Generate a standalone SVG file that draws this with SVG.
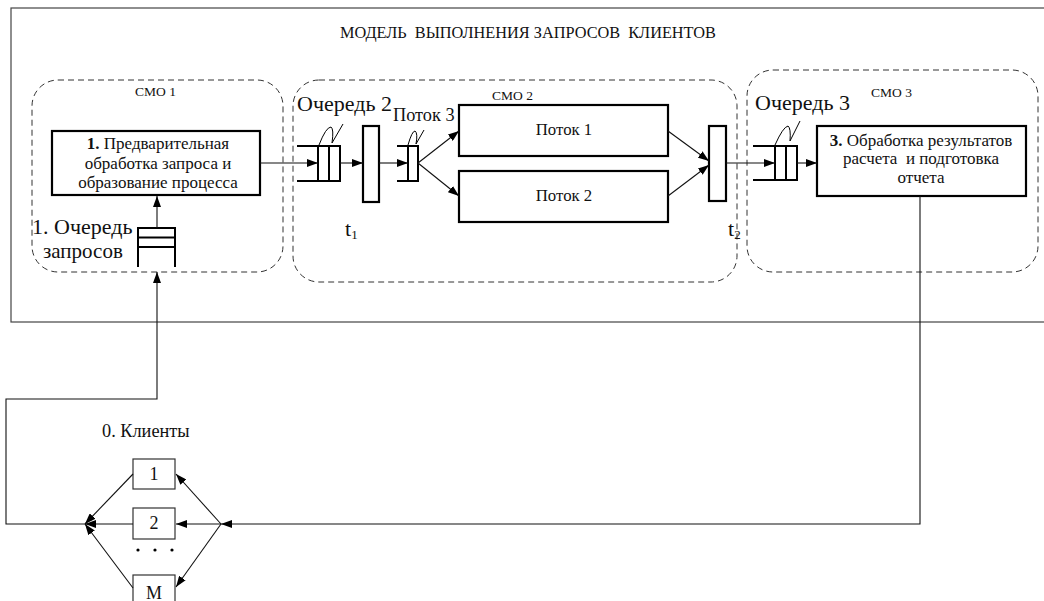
<svg xmlns="http://www.w3.org/2000/svg" width="1044" height="601" viewBox="0 0 1044 601">
<defs>
<marker id="ah" markerUnits="userSpaceOnUse" markerWidth="11" markerHeight="8" refX="11" refY="4" orient="auto">
<path d="M0,0 L11,4 L0,8 z" fill="#000"/>
</marker>
<style>
text{fill:#111;font-family:'Liberation Serif','Times New Roman',serif}
.frame{fill:none;stroke:#444;stroke-width:1.2}
.dash{fill:none;stroke:#333;stroke-width:1;stroke-dasharray:6,4}
.tb{fill:#fff;stroke:#000;stroke-width:2.2}
.thin{fill:#fff;stroke:#333;stroke-width:1.2}
.q{fill:none;stroke:#000;stroke-width:2}
.qb{fill:#fff;stroke:#000;stroke-width:2}
.wig{fill:none;stroke:#000;stroke-width:1}
.ca{fill:none;stroke:#111;stroke-width:1.1;marker-end:url(#ah)}
.big{font-size:22px}
.mid{font-size:17px}
.num{font-size:18px}
.sm{font-size:13.5px}
</style>
</defs>

<g id="frame">
<rect class="frame" x="11" y="8" width="1045" height="314"/>
<text x="340" y="38" font-size="16.3" xml:space="preserve">МОДЕЛЬ  ВЫПОЛНЕНИЯ ЗАПРОСОВ  КЛИЕНТОВ</text>
</g>

<g id="smo1">
<rect class="dash" x="32" y="80" width="251" height="192" rx="26"/>
<text class="sm" x="135" y="96">СМО 1</text>
</g>
<g id="smo2">
<rect class="dash" x="293" y="80" width="444" height="202" rx="26"/>
<text class="sm" x="492" y="100">СМО 2</text>
</g>
<g id="smo3">
<rect class="dash" x="747" y="70" width="291" height="202" rx="26"/>
<text class="sm" x="871" y="97">СМО 3</text>
</g>

<g id="box1">
<rect class="tb" x="52" y="131" width="208" height="64"/>
<text class="mid" text-anchor="middle" x="158" y="149"><tspan font-weight="bold">1.</tspan> Предварительная</text>
<text class="mid" text-anchor="middle" x="158" y="169">обработка запроса и</text>
<text class="mid" text-anchor="middle" x="158" y="188">образование процесса</text>
</g>

<g id="queue1">
<path class="q" d="M138,267 V228 H175 V267 M138,237.5 H175 M138,247 H175"/>
<text class="big" x="32" y="234">1. Очередь</text>
<text x="43" y="258" font-size="21">запросов</text>
</g>

<g id="queue2">
<path class="q" d="M297,146 H318 M297,181 H318"/>
<rect class="qb" x="318" y="146" width="22" height="35"/>
<line class="q" x1="329" y1="146" x2="329" y2="181"/>
<path class="wig" d="M319,145 Q326,127 331,127 Q334,129 332,143 L343,124"/>
<text class="big" x="297" y="111">Очередь 2</text>
</g>

<g id="t1">
<rect class="tb" x="363" y="126" width="16" height="76"/>
<text x="345" y="236" font-size="22">t<tspan font-size="13" dy="3">1</tspan></text>
</g>

<g id="queue-potok3">
<path class="q" d="M397,146 H408 M397,181 H408"/>
<rect class="qb" x="408" y="146" width="10" height="35"/>
<path class="wig" d="M408,145 Q412,131 415,131 Q418,133 416,144 L424,130"/>
<text x="393" y="121" font-size="18.3">Поток 3</text>
</g>

<g id="potok1">
<rect class="tb" x="459" y="105" width="209" height="51"/>
<text x="564" y="135" font-size="16.8" text-anchor="middle">Поток 1</text>
</g>
<g id="potok2">
<rect class="tb" x="459" y="171" width="209" height="51"/>
<text x="564" y="201" font-size="16.8" text-anchor="middle">Поток 2</text>
</g>

<g id="t2">
<rect class="tb" x="709" y="126" width="17" height="75"/>
<text x="728" y="236" font-size="22">t<tspan font-size="13" dy="3">2</tspan></text>
</g>

<g id="queue3">
<path class="q" d="M753,146 H775 M753,180 H775"/>
<rect class="qb" x="775" y="146" width="22" height="34"/>
<line class="q" x1="786" y1="146" x2="786" y2="180"/>
<path class="wig" d="M775,145 Q783,127 788,126 Q791,128 790,141 L800,121"/>
<text class="big" x="755" y="110">Очередь 3</text>
</g>

<g id="box3">
<rect class="tb" x="817" y="126" width="209" height="70"/>
<text class="mid" text-anchor="middle" x="921" y="146"><tspan font-weight="bold">3.</tspan> Обработка результатов</text>
<text class="mid" text-anchor="middle" x="921" y="164" xml:space="preserve">расчета  и подготовка</text>
<text class="mid" text-anchor="middle" x="921" y="183">отчета</text>
</g>

<g id="clients">
<text x="102" y="437" font-size="18.3">0. Клиенты</text>
<g id="client1">
<rect class="thin" x="133" y="459" width="42" height="30"/>
<text class="num" text-anchor="middle" x="154" y="480">1</text>
</g>
<g id="client2">
<rect class="thin" x="133" y="508" width="42" height="31"/>
<text class="num" text-anchor="middle" x="154" y="529">2</text>
</g>
<g id="dots">
<circle cx="138" cy="550" r="1.6" fill="#000"/>
<circle cx="155" cy="550" r="1.6" fill="#000"/>
<circle cx="172" cy="550" r="1.6" fill="#000"/>
</g>
<g id="clientM">
<rect class="thin" x="133" y="575" width="42" height="30"/>
<text class="num" text-anchor="middle" x="154" y="599">M</text>
</g>
</g>

<g id="connectors">
<path class="ca" d="M157,228 V196"/>
<path class="ca" d="M85,524 H6 V399 H157 V272"/>
<path class="ca" d="M260,163 H318"/>
<path class="ca" d="M340,163 H363"/>
<path class="ca" d="M379,163 H408"/>
<path class="ca" d="M418,163 L459,131"/>
<path class="ca" d="M418,163 L459,196"/>
<path class="ca" d="M668,131 L709,161"/>
<path class="ca" d="M668,196 L709,165"/>
<path class="ca" d="M726,163 H775"/>
<path class="ca" d="M797,163 H817"/>
<path class="ca" d="M920,196 V524 H221"/>
<path class="ca" d="M221,524 L176,474"/>
<path class="ca" d="M221,524 H176"/>
<path class="ca" d="M221,524 L176,587"/>
<path class="ca" d="M133,474 L85,524"/>
<path class="ca" d="M133,524 H85"/>
<path class="ca" d="M133,588 L85,524"/>
</g>
</svg>
